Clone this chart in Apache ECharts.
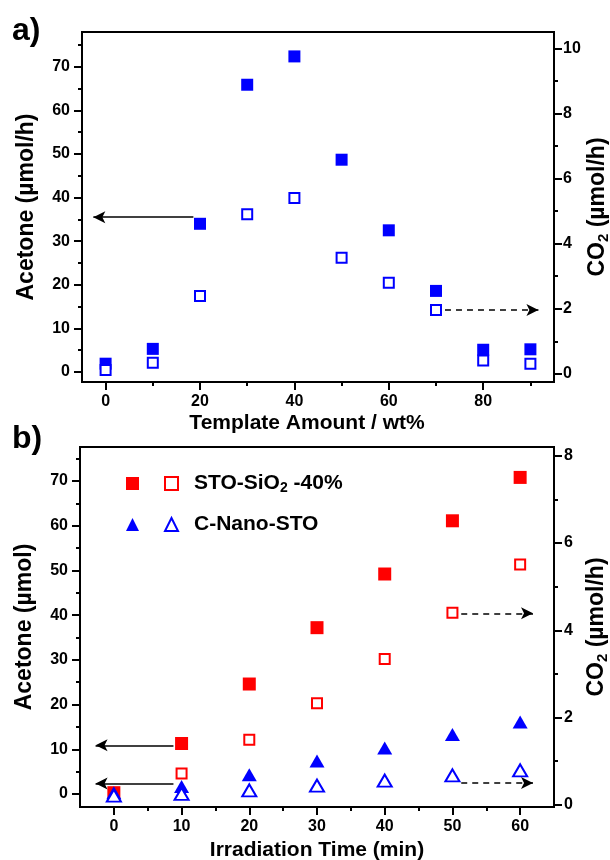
<!DOCTYPE html>
<html>
<head>
<meta charset="utf-8">
<script src="https://cdn.jsdelivr.net/npm/echarts@6/dist/echarts.min.js"></script>
<style>
  html, body { margin: 0; padding: 0; background: #fff; }
  #chart { width: 610px; height: 860px; }
</style>
</head>
<body>
<div id="chart"></div>
<script>
// panel a: rate vs template amount
const templateAmount = [0, 10, 20, 30, 40, 50, 60, 70, 80, 90]
const acetoneRateA = [1.9, 5.3, 34.0, 65.9, 72.4, 48.7, 32.5, 18.6, 5.1, 5.2]
const co2RateA = [0.12, 0.34, 2.39, 4.90, 5.40, 3.57, 2.80, 1.96, 0.41, 0.31]

// panel b: amount vs irradiation time
const irradiationTime = [0, 10, 20, 30, 40, 50, 60]
const stoAcetone = [0.3, 11.3, 24.6, 37.2, 49.2, 61.1, 70.8]
const stoCO2 = [null, 0.72, 1.49, 2.33, 3.34, 4.40, 5.51]
const nanoAcetone = [0.3, 1.7, 4.3, 7.4, 10.3, 13.3, 16.1]
const nanoCO2 = [0.21, 0.25, 0.33, 0.44, 0.556, 0.675, 0.79]

// tick labels
const templateTicks = [0, 20, 40, 60, 80]
const templateMinor = [10, 30, 50, 70, 90]
const acetoneTicks = [0, 10, 20, 30, 40, 50, 60, 70]
const acetoneMinor = [5, 15, 25, 35, 45, 55, 65, 75]
const co2TicksA = [0, 2, 4, 6, 8, 10]
const co2MinorA = [1, 3, 5, 7, 9]
const timeTicks = [0, 10, 20, 30, 40, 50, 60]
const timeMinor = [5, 15, 25, 35, 45, 55]
const co2TicksB = [0, 2, 4, 6, 8]
const co2MinorB = [1, 3, 5, 7]

const FONT = 'Liberation Sans'
const BLUE = '#0000ff'
const RED = '#ff0000'

const pairs = (xs, ys) => xs.map((x, i) => [x, ys[i]]).filter(p => p[1] != null)

// 主刻度轴（带标签）
function majorAxis(extra, ticks) {
    return Object.assign({
        type: 'value',
        nameMoveOverlap: false,
        axisLine: { show: true, onZero: false, lineStyle: { color: '#000', width: 2 } },
        axisTick: { show: true, customValues: ticks, length: 8, lineStyle: { color: '#000', width: 2 } },
        axisLabel: {
            customValues: ticks, color: '#000', fontSize: 16, fontWeight: 'bold',
            fontFamily: FONT, margin: 12
        },
        splitLine: { show: false }
    }, extra)
}

// 次刻度轴（只画短刻度）
function minorAxis(extra, ticks) {
    return Object.assign({
        type: 'value',
        axisLine: { show: false, onZero: false },
        axisTick: { show: true, customValues: ticks, length: 4, lineStyle: { color: '#000', width: 2 } },
        axisLabel: { show: false },
        splitLine: { show: false }
    }, extra)
}

const nameStyle = {
    color: '#000', fontFamily: FONT, fontWeight: 'bold', fontSize: 23,
    rich: {
        b: { fontSize: 23, fontWeight: 'bold', fontFamily: FONT, color: '#000' },
        sub: { fontSize: 15, fontWeight: 'bold', fontFamily: FONT, color: '#000', padding: [12, 0, 0, 0] }
    }
}

function arrow(from, to) {
    return [
        { coord: from, symbol: 'none' },
        { coord: to, symbol: 'arrow' }
    ]
}

const solidLine = { color: '#000', width: 1.5, type: 'solid' }
const dashLine = { color: '#000', width: 1.5, type: [6, 5] }

function markArrow(list, style) {
    return {
        silent: true,
        animation: false,
        symbolSize: [9, 12],
        label: { show: false },
        lineStyle: style,
        data: list
    }
}

const filled = c => ({ color: c, opacity: 1 })
const hollow = c => ({ color: '#fff', borderColor: c, borderWidth: 2, opacity: 1 })

const chart = echarts.init(document.getElementById('chart'))
chart.setOption({
    backgroundColor: '#fff',
    animation: false,
    textStyle: { fontFamily: FONT },
    grid: [
        { left: 82, right: 56, top: 32, height: 350, show: true, borderColor: '#000', borderWidth: 2, outerBoundsMode: 'none' },
        { left: 80, right: 56, top: 447, height: 360, show: true, borderColor: '#000', borderWidth: 2, outerBoundsMode: 'none' }
    ],
    graphic: [
        { type: 'text', left: 12, top: 15, style: { text: 'a)', font: 'bold 32px "Liberation Sans"', fill: '#000' } },
        { type: 'text', left: 12, top: 423, style: { text: 'b)', font: 'bold 32px "Liberation Sans"', fill: '#000' } }
    ],
    legend: [
        {
            orient: 'vertical', left: 121, top: 466, itemWidth: 13, itemHeight: 13, itemGap: 16,
            selectedMode: false, formatter: () => ' ',
            textStyle: { fontSize: 21, lineHeight: 25 },
            data: ['STO acetone', 'Nano acetone']
        },
        {
            orient: 'vertical', left: 159, top: 466, itemWidth: 13, itemHeight: 13, itemGap: 16,
            selectedMode: false,
            formatter: name => name === 'STO CO2' ? '{t|STO-SiO}{s|2}{t| -40%}' : '{t|C-Nano-STO}',
            textStyle: {
                fontSize: 21, lineHeight: 25, padding: [0, 0, 0, 11],
                rich: {
                    t: { fontSize: 21, fontWeight: 'bold', fontFamily: FONT, color: '#000' },
                    s: { fontSize: 14, fontWeight: 'bold', fontFamily: FONT, color: '#000', padding: [10, 0, 0, 0] }
                }
            },
            data: ['STO CO2', 'Nano CO2']
        }
    ],
    xAxis: [
        majorAxis({
            gridIndex: 0, position: 'bottom', min: -5, max: 95,
            name: 'Template Amount / wt%', nameLocation: 'middle', nameGap: 31,
            nameTextStyle: Object.assign({}, nameStyle, { fontSize: 21, padding: [0, 22, 0, 0] })
        }, templateTicks),
        minorAxis({ gridIndex: 0, position: 'bottom', min: -5, max: 95 }, templateMinor),
        majorAxis({
            gridIndex: 1, position: 'bottom', min: -5, max: 65,
            name: 'Irradiation Time (min)', nameLocation: 'middle', nameGap: 33,
            nameTextStyle: Object.assign({}, nameStyle, { fontSize: 21 })
        }, timeTicks),
        minorAxis({ gridIndex: 1, position: 'bottom', min: -5, max: 65 }, timeMinor)
    ],
    yAxis: [
        majorAxis({
            gridIndex: 0, position: 'left', min: -2.3, max: 78,
            name: '{b|Acetone} {b|(µmol/h)}', nameLocation: 'middle', nameRotate: 90, nameGap: 44,
            nameTextStyle: nameStyle
        }, acetoneTicks),
        minorAxis({ gridIndex: 0, position: 'left', min: -2.3, max: 78 }, acetoneMinor),
        majorAxis({
            gridIndex: 0, position: 'right', min: -0.25, max: 10.5,
            name: '{b|CO}{sub|2}{b| (µmol/h)}', nameLocation: 'middle', nameRotate: 90, nameGap: 30,
            nameTextStyle: nameStyle,
            axisLabel: { customValues: co2TicksA, color: '#000', fontSize: 16, fontWeight: 'bold', fontFamily: FONT, margin: 9 }
        }, co2TicksA),
        minorAxis({ gridIndex: 0, position: 'right', min: -0.25, max: 10.5 }, co2MinorA),
        majorAxis({
            gridIndex: 1, position: 'left', min: -2.9, max: 77.6,
            name: '{b|Acetone} {b|(µmol)}', nameLocation: 'middle', nameRotate: 90, nameGap: 44,
            nameTextStyle: nameStyle
        }, acetoneTicks),
        minorAxis({ gridIndex: 1, position: 'left', min: -2.9, max: 77.6 }, acetoneMinor),
        majorAxis({
            gridIndex: 1, position: 'right', min: -0.05, max: 8.2,
            name: '{b|CO}{sub|2}{b| (µmol/h)}', nameLocation: 'middle', nameRotate: 90, nameGap: 29,
            nameTextStyle: nameStyle,
            axisLabel: { customValues: co2TicksB, color: '#000', fontSize: 16, fontWeight: 'bold', fontFamily: FONT, margin: 10 }
        }, co2TicksB),
        minorAxis({ gridIndex: 1, position: 'right', min: -0.05, max: 8.2 }, co2MinorB)
    ],
    series: [
        {
            name: 'Acetone rate', type: 'scatter', xAxisIndex: 0, yAxisIndex: 0,
            symbol: 'rect', symbolSize: 12, itemStyle: filled(BLUE),
            data: pairs(templateAmount, acetoneRateA),
            markLine: markArrow([arrow([18.6, 35.5], [-2.6, 35.5])], solidLine)
        },
        {
            name: 'CO2 rate', type: 'scatter', xAxisIndex: 0, yAxisIndex: 2,
            symbol: 'rect', symbolSize: 10, itemStyle: hollow(BLUE),
            data: pairs(templateAmount, co2RateA),
            markLine: markArrow([arrow([71.9, 1.96], [91.7, 1.96])], dashLine)
        },
        {
            name: 'STO acetone', type: 'scatter', xAxisIndex: 2, yAxisIndex: 4,
            symbol: 'rect', symbolSize: 13, itemStyle: filled(RED),
            data: pairs(irradiationTime, stoAcetone),
            markLine: markArrow([arrow([8.8, 10.9], [-2.7, 10.9])], solidLine)
        },
        {
            name: 'Nano acetone', type: 'scatter', xAxisIndex: 2, yAxisIndex: 4,
            symbol: 'triangle', symbolSize: [15, 13], itemStyle: filled(BLUE),
            data: pairs(irradiationTime, nanoAcetone),
            markLine: markArrow([arrow([8.8, 2.33], [-2.7, 2.33])], solidLine)
        },
        {
            name: 'STO CO2', type: 'scatter', xAxisIndex: 2, yAxisIndex: 6,
            symbol: 'rect', symbolSize: 10, itemStyle: hollow(RED),
            data: pairs(irradiationTime, stoCO2),
            markLine: markArrow([arrow([51.3, 4.39], [61.9, 4.39])], dashLine)
        },
        {
            name: 'Nano CO2', type: 'scatter', xAxisIndex: 2, yAxisIndex: 6,
            symbol: 'triangle', symbolSize: [14, 12], itemStyle: hollow(BLUE),
            data: pairs(irradiationTime, nanoCO2),
            markLine: markArrow([arrow([51.3, 0.50], [61.9, 0.50])], dashLine)
        }
    ]
})

window.addEventListener('resize', () => {
    chart.resize()
})
</script>
</body>
</html>
